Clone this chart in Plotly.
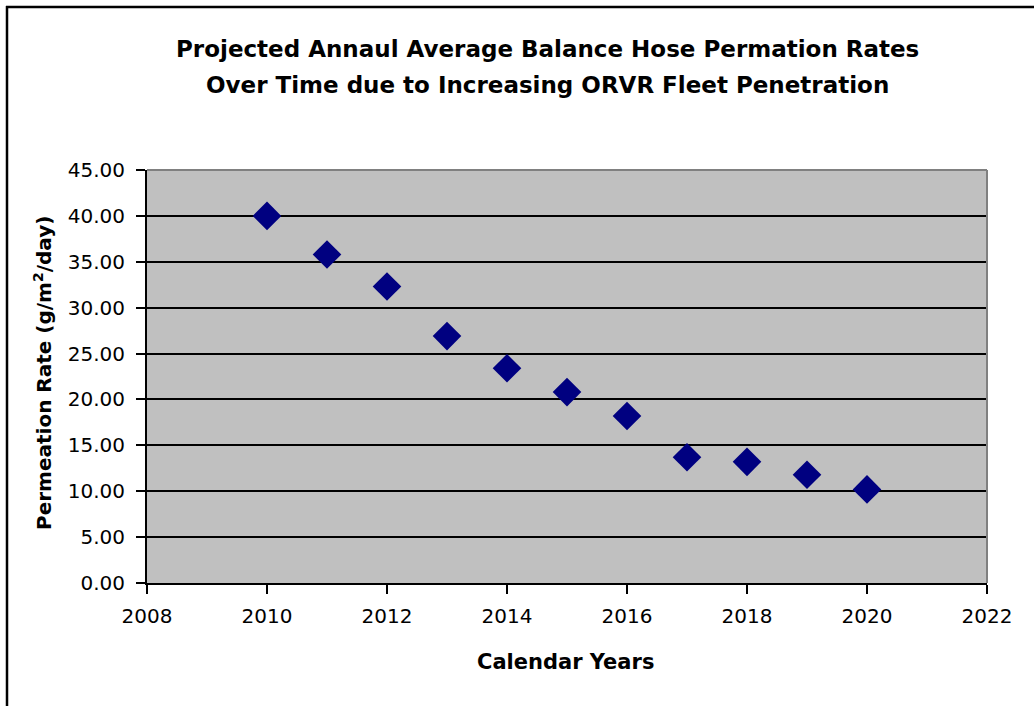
import plotly.graph_objects as go

# Annual average balance hose permeation rates by calendar year
years = [2010, 2011, 2012, 2013, 2014, 2015, 2016, 2017, 2018, 2019, 2020]
rates = [40.0, 35.8, 32.3, 26.9, 23.4, 20.8, 18.2, 13.7, 13.2, 11.8, 10.2]

title_lines = [
    "Projected Annaul Average Balance Hose Permation Rates",
    "Over Time due to Increasing ORVR Fleet Penetration",
]
x_title = "Calendar Years"
y_title = "Permeation Rate (g/m<sup>2</sup>/day)"

W, H = 1034, 706
ML, MR, MT, MB = 147, 47, 170, 123
PW, PH = W - ML - MR, H - MT - MB


def px(xp):
    return (xp - ML) / PW


def py(yp):
    return (H - MB - yp) / PH


FONT = "DejaVu Sans, Verdana, sans-serif"

fig = go.Figure()
fig.add_trace(go.Scatter(
    x=years, y=rates, mode="markers",
    marker=dict(symbol="diamond", size=22, color="#000080",
                line=dict(width=0)),
    hoverinfo="x+y", showlegend=False,
))

axis_common = dict(
    showline=True, linecolor="black", linewidth=2,
    ticks="outside", ticklen=9, tickwidth=1.5, tickcolor="black",
    tickfont=dict(family=FONT, size=20, color="black"),
    zeroline=False,
)

fig.update_xaxes(
    range=[2008, 2022], tickmode="linear", tick0=2008, dtick=2,
    showgrid=False, ticklabelstandoff=5, **axis_common,
)
fig.update_yaxes(
    range=[0, 45], tickmode="linear", tick0=0, dtick=5, tickformat=".2f",
    showgrid=True, gridcolor="black", gridwidth=1.5,
    ticklabelstandoff=7, **axis_common,
)

annotations = [
    dict(text="<b>%s</b>" % title_lines[0], x=px(547), y=py(49),
         xref="paper", yref="paper", showarrow=False,
         xanchor="center", yanchor="middle",
         font=dict(family=FONT, size=23, color="black")),
    dict(text="<b>%s</b>" % title_lines[1], x=px(547), y=py(85),
         xref="paper", yref="paper", showarrow=False,
         xanchor="center", yanchor="middle",
         font=dict(family=FONT, size=23, color="black")),
    dict(text="<b>%s</b>" % x_title, x=px(565), y=py(662),
         xref="paper", yref="paper", showarrow=False,
         xanchor="center", yanchor="middle",
         font=dict(family=FONT, size=21, color="black")),
    dict(text="<b>%s</b>" % y_title, x=px(43), y=py(373),
         xref="paper", yref="paper", showarrow=False, textangle=-90,
         xanchor="center", yanchor="middle",
         font=dict(family=FONT, size=20, color="black")),
]

shapes = [
    # grey top and right edges of the plot area
    dict(type="line", xref="paper", yref="paper", x0=0, x1=1, y0=1, y1=1,
         line=dict(color="#808080", width=2), layer="above"),
    dict(type="line", xref="paper", yref="paper", x0=1, x1=1, y0=0, y1=1,
         line=dict(color="#808080", width=2), layer="above"),
    # outer frame: top and left edges
    dict(type="line", xref="paper", yref="paper",
         x0=px(6), x1=px(W + 5), y0=py(7), y1=py(7),
         line=dict(color="black", width=2.5)),
    dict(type="line", xref="paper", yref="paper",
         x0=px(7), x1=px(7), y0=py(6), y1=py(H + 5),
         line=dict(color="black", width=2.5)),
]

fig.update_layout(
    width=W, height=H,
    margin=dict(l=ML, r=MR, t=MT, b=MB),
    paper_bgcolor="white", plot_bgcolor="#C0C0C0",
    annotations=annotations, shapes=shapes,
    showlegend=False,
)

fig.write_html("out.html")
